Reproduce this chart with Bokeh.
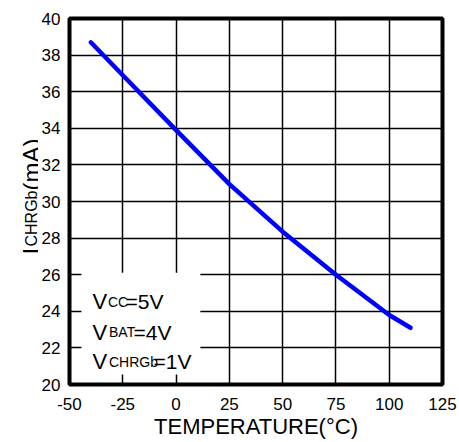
import math

from bokeh.embed import file_html
from bokeh.layouts import row
from bokeh.models import BoxAnnotation, FixedTicker, Label, Range1d
from bokeh.plotting import figure
from bokeh.resources import INLINE

# Charge current vs. temperature
temperature_c = [-40, -25, 0, 25, 50, 75, 100, 110]
charge_current_ma = [38.7, 36.9, 33.9, 30.95, 28.35, 26.0, 23.8, 23.1]

x_ticks = [-50, -25, 0, 25, 50, 75, 100, 125]
y_ticks = [20, 22, 24, 26, 28, 30, 32, 34, 36, 38, 40]

FONT = "Liberation Sans"
W, H = 459, 442

# a narrow strip on the left carries the y title; the chart takes the rest
YSTRIP_W = 38
MAIN_W = W - YSTRIP_W
FRAME_L, FRAME_R, FRAME_T, FRAME_B = 66, 442, 18, 384  # page pixels

p = figure(
    width=MAIN_W, height=H,
    output_backend="svg", toolbar_location=None,
    x_range=Range1d(-50, 125), y_range=Range1d(20, 40),
    min_border_left=FRAME_L - YSTRIP_W, min_border_right=W - FRAME_R,
    min_border_top=FRAME_T, min_border_bottom=H - FRAME_B,
)
p.background_fill_color = "white"
p.border_fill_color = "white"
p.outline_line_color = "black"
p.outline_line_width = 4

for ax in (p.xaxis, p.yaxis):
    ax.axis_line_color = None
    ax.major_tick_line_color = None
    ax.minor_tick_line_color = None
    ax.major_tick_out = 0
    ax.major_tick_in = 0
    ax.minor_tick_out = 0
    ax.minor_tick_in = 0
    ax.major_label_text_font = FONT
    ax.major_label_text_font_size = "17px"
    ax.major_label_text_color = "black"

p.xaxis.ticker = FixedTicker(ticks=x_ticks)
p.yaxis.ticker = FixedTicker(ticks=y_ticks)
p.xaxis.major_label_overrides = {t: str(t) for t in x_ticks}
p.yaxis.major_label_overrides = {t: str(t) for t in y_ticks}
p.xaxis.major_label_standoff = 13
p.yaxis.major_label_standoff = 9

p.xaxis.axis_label = "TEMPERATURE(°C)"
p.xaxis.axis_label_text_font = FONT
p.xaxis.axis_label_text_font_size = "22px"
p.xaxis.axis_label_text_font_style = "normal"
p.xaxis.axis_label_text_color = "black"
p.xaxis.axis_label_standoff = 1

p.xgrid.ticker = FixedTicker(ticks=x_ticks)
p.ygrid.ticker = FixedTicker(ticks=y_ticks)
for g in (p.xgrid, p.ygrid):
    g.grid_line_color = "black"
    g.grid_line_alpha = 1.0
    g.grid_line_width = 1.5

p.line(temperature_c, charge_current_ma, line_color="#0000ff",
       line_width=4.5, line_cap="round", line_join="round")

# white panel behind the test-condition note
p.add_layout(BoxAnnotation(left=-44.4, right=11.4, bottom=20.55, top=26.1,
                           fill_color="white", fill_alpha=1.0, line_color=None))


def text_piece(fig, text, x, y, size, angle=0.0, align="left"):
    """Add a text piece at screen position (x, y) from fig's frame lower-left."""
    fig.add_layout(Label(
        x=x, y=y, x_units="screen", y_units="screen",
        text=text, angle=angle, text_align=align, text_baseline="alphabetic",
        text_font=FONT, text_font_size=f"{size}px", text_color="black",
    ))


def note(text, x, y_top, size):
    # page pixel -> chart-frame screen units
    text_piece(p, text, x - FRAME_L, FRAME_B - y_top, size)


# note: supply conditions
note("V", 89, 301, 22)
note("CC", 104.5, 301, 14)
note("=5V", 122, 301, 21)
note("V", 89, 331.5, 22)
note("BAT", 105.5, 331.5, 14)
note("=4V", 130, 331.5, 21)
note("V", 89, 361, 22)
note("CHRGb", 105.5, 361, 14)
note("=1V", 150, 361, 21)

# y title strip; its frame lines up with the chart's frame in the row
ys = figure(width=YSTRIP_W, height=H, output_backend="svg",
            toolbar_location=None, x_axis_location=None, y_axis_location=None,
            min_border=0, x_range=Range1d(0, 1), y_range=Range1d(0, 1))
ys.grid.visible = False
ys.outline_line_color = None
ys.background_fill_color = "white"
ys.border_fill_color = "white"

text_piece(ys, "I", 31, FRAME_B - 254, 24, angle=math.pi / 2)
text_piece(ys, "CHRGb", 31, FRAME_B - 246, 16, angle=math.pi / 2)
text_piece(ys, "(mA)", 31, FRAME_B - 190, 24, angle=math.pi / 2)

page = row(ys, p, spacing=0)

open("out.html", "w").write(file_html(page, INLINE))
